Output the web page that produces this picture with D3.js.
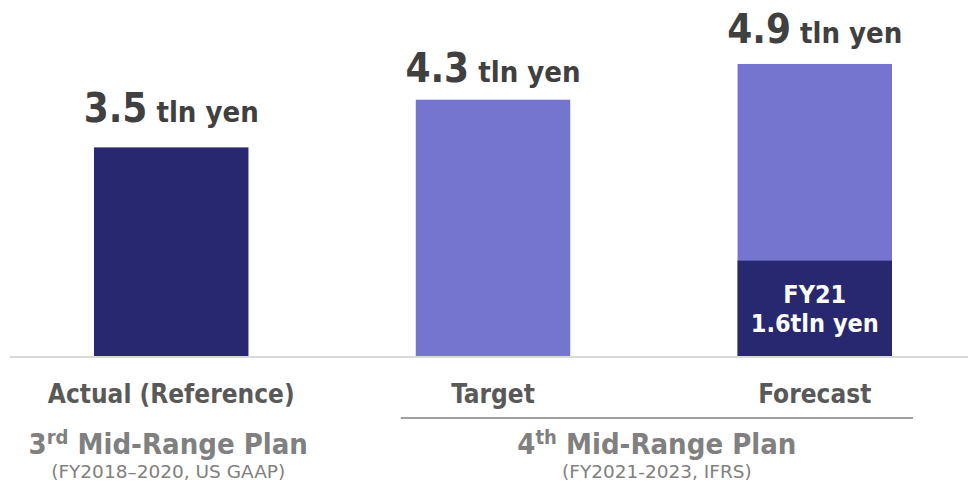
<!DOCTYPE html>
<html lang="en">
<head>
<meta charset="utf-8">
<title>Mid-Range Plan revenue</title>
<script src="https://d3js.org/d3.v7.min.js"></script>
<style>
  body { margin: 0; background: #fff; }
  text { font-family: "DejaVu Sans Condensed", "DejaVu Sans", sans-serif; font-stretch: condensed; }
</style>
</head>
<body>
<script>
// data
var categories = ["Actual (Reference)", "Target", "Forecast"];
var totals = [3.5, 4.3, 4.9];
var fy21Part = [null, null, 1.6];
var barColors = ["#282870", "#7575d0", "#7575d0"];

var planNums = ["3", "4"];
var planSups = ["rd", "th"];
var planNotes = ["(FY2018\u20132020, US GAAP)", "(FY2021-2023, IFRS)"];
var planBars = [[0], [1, 2]];

var w = 968, h = 482;
var baseY = 356;

var svg = d3.select("body").append("svg")
  .attr("width", w)
  .attr("height", h);

var x = d3.scaleBand()
  .domain(d3.range(categories.length))
  .range([94, 892])
  .paddingInner(0.52)
  .paddingOuter(0);

var y = d3.scaleLinear()
  .domain([0, 5])
  .range([baseY, baseY - 5 * 59.6]);

// bars
svg.selectAll("rect.total")
  .data(totals)
  .enter().append("rect")
  .attr("class", "total")
  .attr("x", function(d, i) { return x(i); })
  .attr("y", function(d) { return y(d); })
  .attr("width", x.bandwidth())
  .attr("height", function(d) { return y(0) - y(d); })
  .attr("fill", function(d, i) { return barColors[i]; });

// FY21 portion of the forecast
var fyIdx = fy21Part.map(function(d, i) { return d == null ? -1 : i; }).filter(function(i) { return i >= 0; });
svg.selectAll("rect.fy21")
  .data(fyIdx)
  .enter().append("rect")
  .attr("class", "fy21")
  .attr("x", function(i) { return x(i); })
  .attr("y", function(i) { return y(fy21Part[i]); })
  .attr("width", x.bandwidth())
  .attr("height", function(i) { return y(0) - y(fy21Part[i]); })
  .attr("fill", "#282870");

fyIdx.forEach(function(i) {
  var cx = x(i) + x.bandwidth() / 2;
  var t = svg.append("text")
    .attr("text-anchor", "middle")
    .attr("fill", "#fff")
    .attr("font-weight", "bold")
    .attr("font-size", "25px");
  t.append("tspan").attr("x", cx).attr("y", 303).text("FY21");
  t.append("tspan").attr("x", cx).attr("y", 332).text(fy21Part[i] + "tln yen");
});

// baseline
svg.append("line")
  .attr("x1", 10).attr("x2", w)
  .attr("y1", baseY + 1).attr("y2", baseY + 1)
  .attr("stroke", "#d9d9d9")
  .attr("stroke-width", 2);

// value labels
var labelGap = [25, 18, 21];
totals.forEach(function(d, i) {
  var t = svg.append("text")
    .attr("x", x(i) + x.bandwidth() / 2)
    .attr("y", y(d) - labelGap[i])
    .attr("text-anchor", "middle")
    .attr("fill", "#404040")
    .attr("font-weight", "bold");
  t.append("tspan").attr("font-size", "40px").text(d.toFixed(1));
  t.append("tspan").attr("font-size", "29px").text(" tln yen");
});

// category labels
svg.selectAll("text.cat")
  .data(categories)
  .enter().append("text")
  .attr("class", "cat")
  .attr("x", function(d, i) { return x(i) + x.bandwidth() / 2; })
  .attr("y", 403)
  .attr("text-anchor", "middle")
  .attr("fill", "#595959")
  .attr("font-weight", "bold")
  .attr("font-size", "26px")
  .text(function(d) { return d; });

// plan groups
planBars.forEach(function(bars, p) {
  var x0 = x(bars[0]);
  var x1 = x(bars[bars.length - 1]) + x.bandwidth();
  var cx = (x0 + x1) / 2 + (bars.length > 1 ? 3 : -3);

  if (bars.length > 1) {
    svg.append("line")
      .attr("x1", x0 - 15).attr("x2", x1 + 21)
      .attr("y1", 418).attr("y2", 418)
      .attr("stroke", "#808080")
      .attr("stroke-width", 1.5);
  }

  var t = svg.append("text")
    .attr("x", cx)
    .attr("y", 454)
    .attr("text-anchor", "middle")
    .attr("fill", "#808080")
    .attr("font-weight", "bold")
    .attr("font-size", "29px");
  t.append("tspan").text(planNums[p]);
  t.append("tspan").attr("font-size", "20px").attr("dy", -10).text(planSups[p]);
  t.append("tspan").attr("dy", 10).text(" Mid-Range Plan");

  svg.append("text")
    .attr("x", cx)
    .attr("y", 478)
    .attr("text-anchor", "middle")
    .attr("fill", "#808080")
    .attr("font-size", "18.5px")
    .style("font-family", "'DejaVu Sans', sans-serif")
    .style("font-stretch", "normal")
    .text(planNotes[p]);
});
</script>
</body>
</html>
